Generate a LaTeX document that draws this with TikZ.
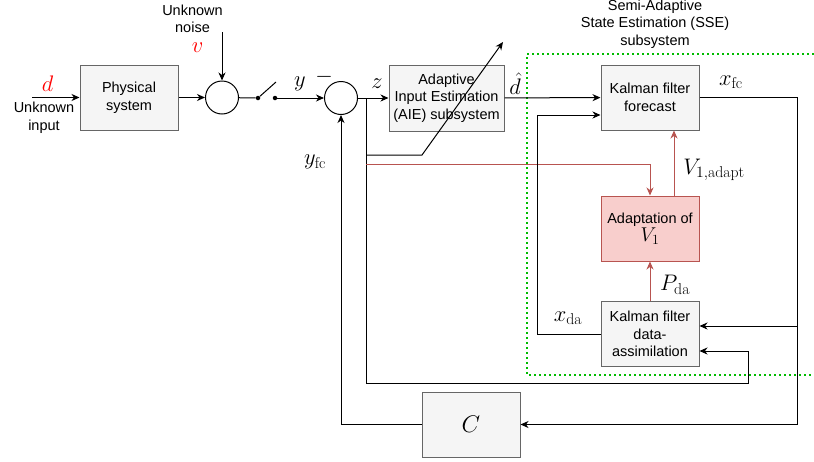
\RequirePackage{fix-cm}
\documentclass[tikz,border=0pt]{standalone}
\usepackage{fontspec}
\newfontfamily\diagfont{Liberation Sans}
\usepackage{xcolor}
\usetikzlibrary{arrows.meta, positioning, calc}

\definecolor{boxfill}{HTML}{F5F5F5}
\definecolor{boxline}{HTML}{666666}
\definecolor{adaptfill}{HTML}{F8CECC}
\definecolor{adaptline}{HTML}{B85450}
\definecolor{sseline}{HTML}{00BB00}

\newcommand{\txtfont}{\diagfont\fontsize{14.5}{17.5}\selectfont}
\newcommand{\lblfont}{\fontsize{22.5}{24}\selectfont}

\begin{document}
\begin{tikzpicture}[x=1pt, y=-1pt,
    box/.style={draw=boxline, fill=boxfill, line width=1pt, minimum width=98pt, minimum height=65pt, align=center, inner sep=2pt, font=\txtfont},
    sumnode/.style={draw, circle, line width=1pt, minimum size=33pt, inner sep=0pt},
    swdot/.style={circle, fill, minimum size=4.5pt, inner sep=0pt},
    arr/.style={-{Stealth[length=8pt, width=7pt, inset=2.5pt]}, line width=1pt},
    redarr/.style={arr, adaptline},
    lbl/.style={font=\lblfont, inner sep=0pt},
    txt/.style={font=\txtfont, align=center, inner sep=0pt}
]
    \useasboundingbox (0,0) rectangle (814,461);

    % Plant and measurement
    \coordinate (dIn) at (32,97.5);
    \node[box] (phys) at (129,97.5) {Physical\\system};
    \node[sumnode] (sum1) at (222,97.5) {};
    \coordinate (noise) at (222,32);
    \node[swdot] (sw1) at (258,98) {};
    \node[swdot] (sw2) at (275,98) {};
    \coordinate (blade) at (276,82);
    \node[sumnode] (sum2) at (341,98) {};

    \node[lbl, text=red] (dlbl) at (47.5,84) {$d$};
    \node[txt] (inlbl) at (44,117.5) {Unknown\\input};
    \node[txt] (noiselbl) at (192.5,19) {Unknown\\noise};
    \node[lbl, text=red] (vlbl) at (197.5,47.5) {$v$};
    \node[lbl] (ylbl) at (300,84) {$y$};
    \node[lbl] (minus) at (324,77) {$-$};

    % AIE subsystem
    \node[box, minimum width=115pt, minimum height=66pt] (aie) at (446.5,98) {Adaptive\\Input Estimation\\(AIE) subsystem};
    \coordinate (zsplit) at (366,98);
    \coordinate (adj0) at (422,155);
    \coordinate (adj1) at (503,42);
    \coordinate (zlow) at (748,383);
    \coordinate (redy) at (366,164);
    \node[lbl] (zlbl) at (377,84) {$z$};
    \node[lbl] (dhat) at (515,84) {$\hat{d}$};
    \node[lbl] (yfclbl) at (315,162) {$y_{\mathrm{fc}}$};

    % SSE subsystem
    \draw[sseline, line width=1.6pt, dash pattern=on 1.6pt off 3.4pt] (814,54) -- (527,54) -- (527,375) -- (814,375);
    \node[txt] (sselbl) at (655,24) {Semi-Adaptive\\State Estimation (SSE)\\subsystem};
    \node[box] (kf) at (650,97.5) {Kalman filter\\forecast};
    \node[box, draw=adaptline, fill=adaptfill] (adapt) at (650,228.5) {Adaptation of\\[1pt]{\fontsize{20}{21}\selectfont$V_1$}};
    \node[box] (kda) at (650,334) {Kalman filter\\data-\\assimilation};
    \coordinate (xdaC) at (537,334);
    \coordinate (xfcC) at (797,97.5);
    \coordinate (xfcB) at (797,326);
    \node[lbl] (xfclbl) at (731,82) {$x_{\mathrm{fc}}$};
    \node[lbl] (Vlbl) at (714,170) {$V_{1,\mathrm{adapt}}$};
    \node[lbl] (Plbl) at (675,285) {$P_{\mathrm{da}}$};
    \node[lbl] (xdalbl) at (568,318) {$x_{\mathrm{da}}$};

    % Output feedback
    \node[box] (cbox) at (471,424.5) {\fontsize{24}{25}\selectfont$C$};

    % Arrows
    \draw[arr] (dIn) -- (phys);
    \draw[arr] (phys) -- (sum1);
    \draw[arr] (noise) -- (sum1);
    \draw[line width=1pt] (sum1) -- (sw1) -- (blade);
    \draw[arr] (sw2) -- (sum2);
    \draw[arr] (sum2) -- (aie);
    \draw[arr] (zsplit) |- (zlow) |- ([yshift=-17pt]kda.east);
    \draw[arr] (zsplit |- adj0) -- (adj0) -- (adj1);
    \draw[redarr] (redy) -| (adapt.north);
    \draw[arr] (aie) -- (kf);
    \draw[arr] (kda.west) -- (xdaC) |- ([yshift=-17.5pt]kf.west);
    \draw[arr] (kf.east) -- (xfcC) |- (cbox.east);
    \draw[arr] (xfcB) -- ([yshift=8pt]kda.east);
    \draw[redarr] ([xshift=24pt]adapt.north) -- ([xshift=24pt]kf.south);
    \draw[redarr] (kda.north) -- (adapt.south);
    \draw[arr] (cbox.west) -| (sum2.south);
\end{tikzpicture}
\end{document}
